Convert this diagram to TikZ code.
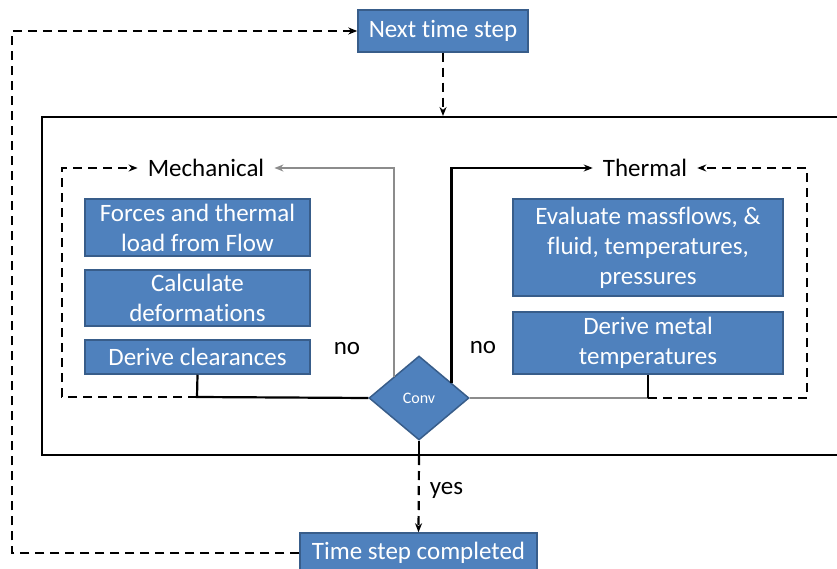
\documentclass[tikz,border=0pt]{standalone}
\usepackage{fontspec}
\setmainfont{Carlito}[Ligatures=NoCommon]
\usetikzlibrary{arrows.meta,calc,shapes.geometric}

\definecolor{boxfill}{RGB}{79,129,189}
\definecolor{boxline}{RGB}{56,93,138}
\definecolor{loopgray}{RGB}{140,140,140}

\tikzset{
  stepbox/.style={rectangle, fill=boxfill, draw=boxline, line width=1.5pt, text=white,
    align=center, inner sep=0pt, font=\fontsize{25}{30}\selectfont},
  convbox/.style={diamond, fill=boxfill, draw=boxline, line width=1.5pt, text=white,
    inner sep=0pt, minimum width=100pt, minimum height=84pt, font=\fontsize{16}{18}\selectfont},
  plain/.style={inner sep=3pt, font=\fontsize{25}{30}\selectfont},
  looplabel/.style={plain, inner xsep=10pt},
  solidline/.style={line width=2.2pt},
  dashline/.style={line width=2.2pt, dash pattern=on 9pt off 6pt},
  grayline/.style={line width=2pt, draw=loopgray},
  tip/.style={-{Stealth[length=9pt,width=7pt]}},
}

\begin{document}
\begin{tikzpicture}[x=1pt,y=-1pt]
  \useasboundingbox (0,0) rectangle (837,569);
  \clip (0,0) rectangle (837,569);

  % Outer loop box
  \node (loopbox) [draw, line width=2pt, minimum width=803pt, minimum height=338pt, inner sep=0pt]
    at (443.5,286) {};

  % Time step boxes
  \node (next) [stepbox, minimum width=170pt, minimum height=42pt] at (443,31) {Next time step};
  \node (done) [stepbox, minimum width=237pt, minimum height=40pt] at (418.5,553) {Time step completed};

  % Mechanical side
  \node (mech) [looplabel] at (206,168) {Mechanical};
  \node (forces) [stepbox, minimum width=225pt, minimum height=57pt] at (197.5,227.5)
    {Forces and thermal\\load from Flow};
  \node (deform) [stepbox, minimum width=225pt, minimum height=56pt] at (197.5,298)
    {Calculate\\deformations};
  \node (dclear) [stepbox, minimum width=225pt, minimum height=34pt] at (197.5,357)
    {Derive clearances};

  % Thermal side
  \node (therm) [looplabel] at (645,168) {Thermal};
  \node (evalmf) [stepbox, minimum width=270pt, minimum height=97pt] at (648,247.5)
    {Evaluate massflows, \&\\fluid, temperatures,\\pressures};
  \node (dmetal) [stepbox, minimum width=270pt, minimum height=62pt] at (648,343)
    {Derive metal\\temperatures};

  % Convergence check
  \node (conv) [convbox] at (419,398) {Conv};

  % Labels
  \node (nol) [plain] at (347,349) {no};
  \node (nor) [plain] at (483,348) {no};

  % Corner points
  \coordinate (back) at (12,31);
  \coordinate (mcorner) at (62,397);
  \coordinate (mjoin) at (197,397);
  \coordinate (tjoin) at (648,398);
  \coordinate (tcorner) at (807,398);
  \coordinate (gup) at ($(conv.west)!0.5!(conv.north)$);
  \coordinate (bup) at ($(conv.north)!0.64!(conv.east)$);

  % Drawing outer loop
  \draw [dashline, tip] (next.south) -- (next.south |- loopbox.north);
  \draw [solidline] (conv.south) -- (conv.south |- loopbox.south);
  \draw [dashline, tip] (conv.south |- loopbox.south) -- (done.north)
    node [plain, pos=0.45, anchor=west, xshift=7pt] (yes) {yes};
  \draw [dashline, tip] (done.west) -| (back) -- (next.west);

  % Drawing mechanical loop
  \draw [dashline, tip] (mjoin) -- (mcorner) |- (mech.west);
  \draw [solidline] (dclear.south) -- (mjoin) -- (conv.west);
  \draw [grayline, tip] (gup) |- (mech.east);

  % Drawing thermal loop
  \draw [solidline, tip] (bup) |- (therm.west);
  \draw [dashline, tip] (tjoin) -- (tcorner) |- (therm.east);
  \draw [grayline] (conv.east) -- (tjoin);
  \draw [solidline] (dmetal.south) -- (tjoin);
\end{tikzpicture}
\end{document}
